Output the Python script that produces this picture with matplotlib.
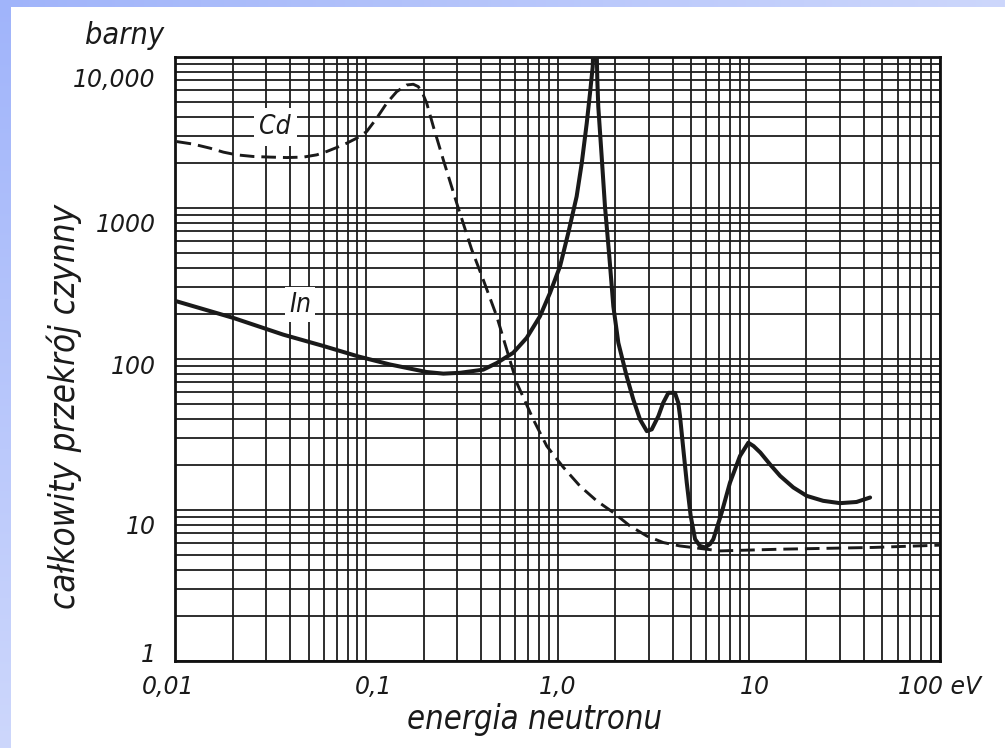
import numpy as np
import matplotlib
matplotlib.use("Agg")
import matplotlib.pyplot as plt
from matplotlib.ticker import LogLocator, NullFormatter, FixedLocator, FixedFormatter
from matplotlib.transforms import ScaledTranslation

# ---------------- data ----------------
in_energy = [0.0102, 0.0202, 0.0368, 0.0596, 0.0908, 0.133, 0.207, 0.253, 0.309, 0.409,
             0.481, 0.587, 0.690, 0.810, 0.914, 1.031, 1.138, 1.259, 1.339, 1.422,
             1.479, 1.528, 1.577, 1.615, 1.634, 1.702, 1.771, 1.866, 1.959, 2.080,
             2.30, 2.49, 2.70, 2.93, 3.11, 3.37, 3.57, 3.80, 4.11, 4.28, 4.37, 4.55,
             4.74, 4.97, 5.24, 5.56, 5.90, 6.27, 6.53, 7.22, 7.98, 9.00, 9.95, 10.6,
             11.5, 12.9, 14.6, 17.1, 20.1, 24.5, 30.0, 36.6, 43.1]
in_sigma = [241, 187, 145, 122, 104, 92, 82, 80, 81, 85,
            94, 110, 138, 192, 274, 411, 682, 1191, 1982, 3645,
            5754, 8630, 30000, 7046, 4690, 2193, 1024, 479, 223, 128,
            76.9, 54.0, 39.8, 33.3, 34.2, 41.9, 51.3, 59.7, 59.7, 51.3, 41.9, 25.2,
            15.2, 9.14, 6.41, 5.78, 5.65, 5.94, 6.41, 9.62, 15.2, 22.8, 27.9, 26.5,
            24.0, 20.1, 16.8, 14.1, 12.4, 11.5, 11.1, 11.3, 12.1]

cd_energy = [0.0102, 0.01246, 0.01524, 0.0179, 0.0210, 0.0257, 0.0314, 0.0384, 0.0469,
             0.0551, 0.0621, 0.0700, 0.0791, 0.0891, 0.1005, 0.1134, 0.1279, 0.1443,
             0.1627, 0.1762, 0.1871, 0.1987, 0.2071, 0.2243, 0.2529, 0.2741, 0.2971,
             0.356, 0.409, 0.481, 0.542, 0.612, 0.747, 0.879, 1.072, 1.311, 1.603,
             1.959, 2.39, 2.93, 3.57, 4.37, 7.08, 14.6, 44.8, 100]
cd_sigma = [2754, 2649, 2490, 2344, 2249, 2193, 2173, 2158, 2173,
            2249, 2366, 2514, 2687, 2899, 3208, 3933, 4943, 5896,
            6528, 6597, 6365, 5606, 4943, 3460, 2084, 1499, 1078,
            530, 335, 192, 116, 69.6, 39.8, 26.5, 19.2, 14.4, 11.5,
            9.62, 7.85, 6.73, 6.09, 5.78, 5.36, 5.50, 5.65, 5.85]

x_ticks = [0.01, 0.1, 1.0, 10, 100]
x_tick_labels = ["0,01", "0,1", "1,0", "10", "100 eV"]
y_ticks = [1, 10, 100, 1000, 10000]
y_tick_labels = ["1", "10", "100", "1000", "10,000"]

# ---------------- figure ----------------
W, H = 1005, 748
fig = plt.figure(figsize=(W / 100, H / 100), dpi=100)
fig.patch.set_facecolor("white")

# slide background: blue strips on the left and top
bg = np.ones((H, W, 3))
c0 = np.array([160, 180, 250]) / 255.0
c1 = np.array([205, 215, 252]) / 255.0
yy = np.linspace(0, 1, H)[:, None, None]
xx = np.linspace(0, 1, W)[None, :, None]
left_col = c0 + (c1 - c0) * yy
top_col = c0 + (c1 - c0) * xx
bg[:, :11, :] = np.broadcast_to(left_col, (H, 11, 3))
bg[:7, :, :] = np.broadcast_to(top_col, (7, W, 3))
bax = fig.add_axes([0, 0, 1, 1], zorder=-10)
bax.imshow(bg, aspect="auto", interpolation="bilinear")
bax.axis("off")

FONT = dict(family="DejaVu Sans", style="italic", stretch="condensed")
INK = "#1a1a1a"

ax = fig.add_axes([175 / W, 1 - 661 / H, (940 - 175) / W, (661 - 57) / H])
ax.set_xscale("log")
ax.set_yscale("log")
ax.set_xlim(0.01, 100)
ax.set_ylim(1, 10000)

ax.xaxis.set_major_locator(FixedLocator(x_ticks))
ax.xaxis.set_major_formatter(FixedFormatter(x_tick_labels))
ax.yaxis.set_major_locator(FixedLocator(y_ticks))
ax.yaxis.set_major_formatter(FixedFormatter(y_tick_labels))
for a in (ax.xaxis, ax.yaxis):
    a.set_minor_locator(LogLocator(base=10, subs=range(2, 10), numticks=100))
    a.set_minor_formatter(NullFormatter())

ax.set_axisbelow(True)
ax.grid(True, which="both", color="#1c1c1c", lw=1.3)
ax.tick_params(which="both", length=0)
ax.tick_params(axis="x", pad=10)
ax.tick_params(axis="y", pad=14)
for sp in ax.spines.values():
    sp.set_linewidth(2.0)
    sp.set_color("#111111")

for lab in ax.get_xticklabels() + ax.get_yticklabels():
    lab.set_fontsize(17)
    lab.set_fontstyle("italic")
    lab.set_color(INK)

xoff = [-7, 7, 0, 6, 0]
for lab, dx in zip(ax.get_xticklabels(), xoff):
    lab.set_transform(lab.get_transform() + ScaledTranslation(dx / 100, 0, fig.dpi_scale_trans))
yoff = [9, -14, -6, -14, -20]
for lab, dy in zip(ax.get_yticklabels(), yoff):
    lab.set_transform(lab.get_transform() + ScaledTranslation(0, dy / 100, fig.dpi_scale_trans))

# curves
ax.plot(in_energy, in_sigma, color=INK, lw=2.9, solid_joinstyle="round",
        solid_capstyle="round", zorder=5)
ax.plot(cd_energy, cd_sigma, color=INK, lw=2.1, linestyle=(0, (5.0, 2.4)),
        dash_capstyle="butt", zorder=5)

# curve labels with white boxes that break the grid
ax.text(0.0334, 3440, "Cd", fontsize=19, ha="center", va="center", color=INK,
        zorder=3, bbox=dict(fc="white", ec="none", pad=4), **FONT)
ax.text(0.0451, 229, "In", fontsize=19, ha="center", va="center", color=INK,
        zorder=3, bbox=dict(fc="white", ec="none", pad=3), **FONT)

# axis texts
fig.text(125 / W, 1 - 35 / H, "barny", fontsize=22, ha="center", va="center",
         color=INK, **FONT)
fig.text(535 / W, 1 - 719 / H, "energia neutronu", fontsize=23.5, ha="center",
         va="center", color=INK, **FONT)
fig.text(64 / W, 1 - 406 / H, "całkowity przekrój czynny", fontsize=25, ha="center",
         va="center", rotation=90, color=INK, **FONT)

fig.savefig("out.png", dpi=100)
